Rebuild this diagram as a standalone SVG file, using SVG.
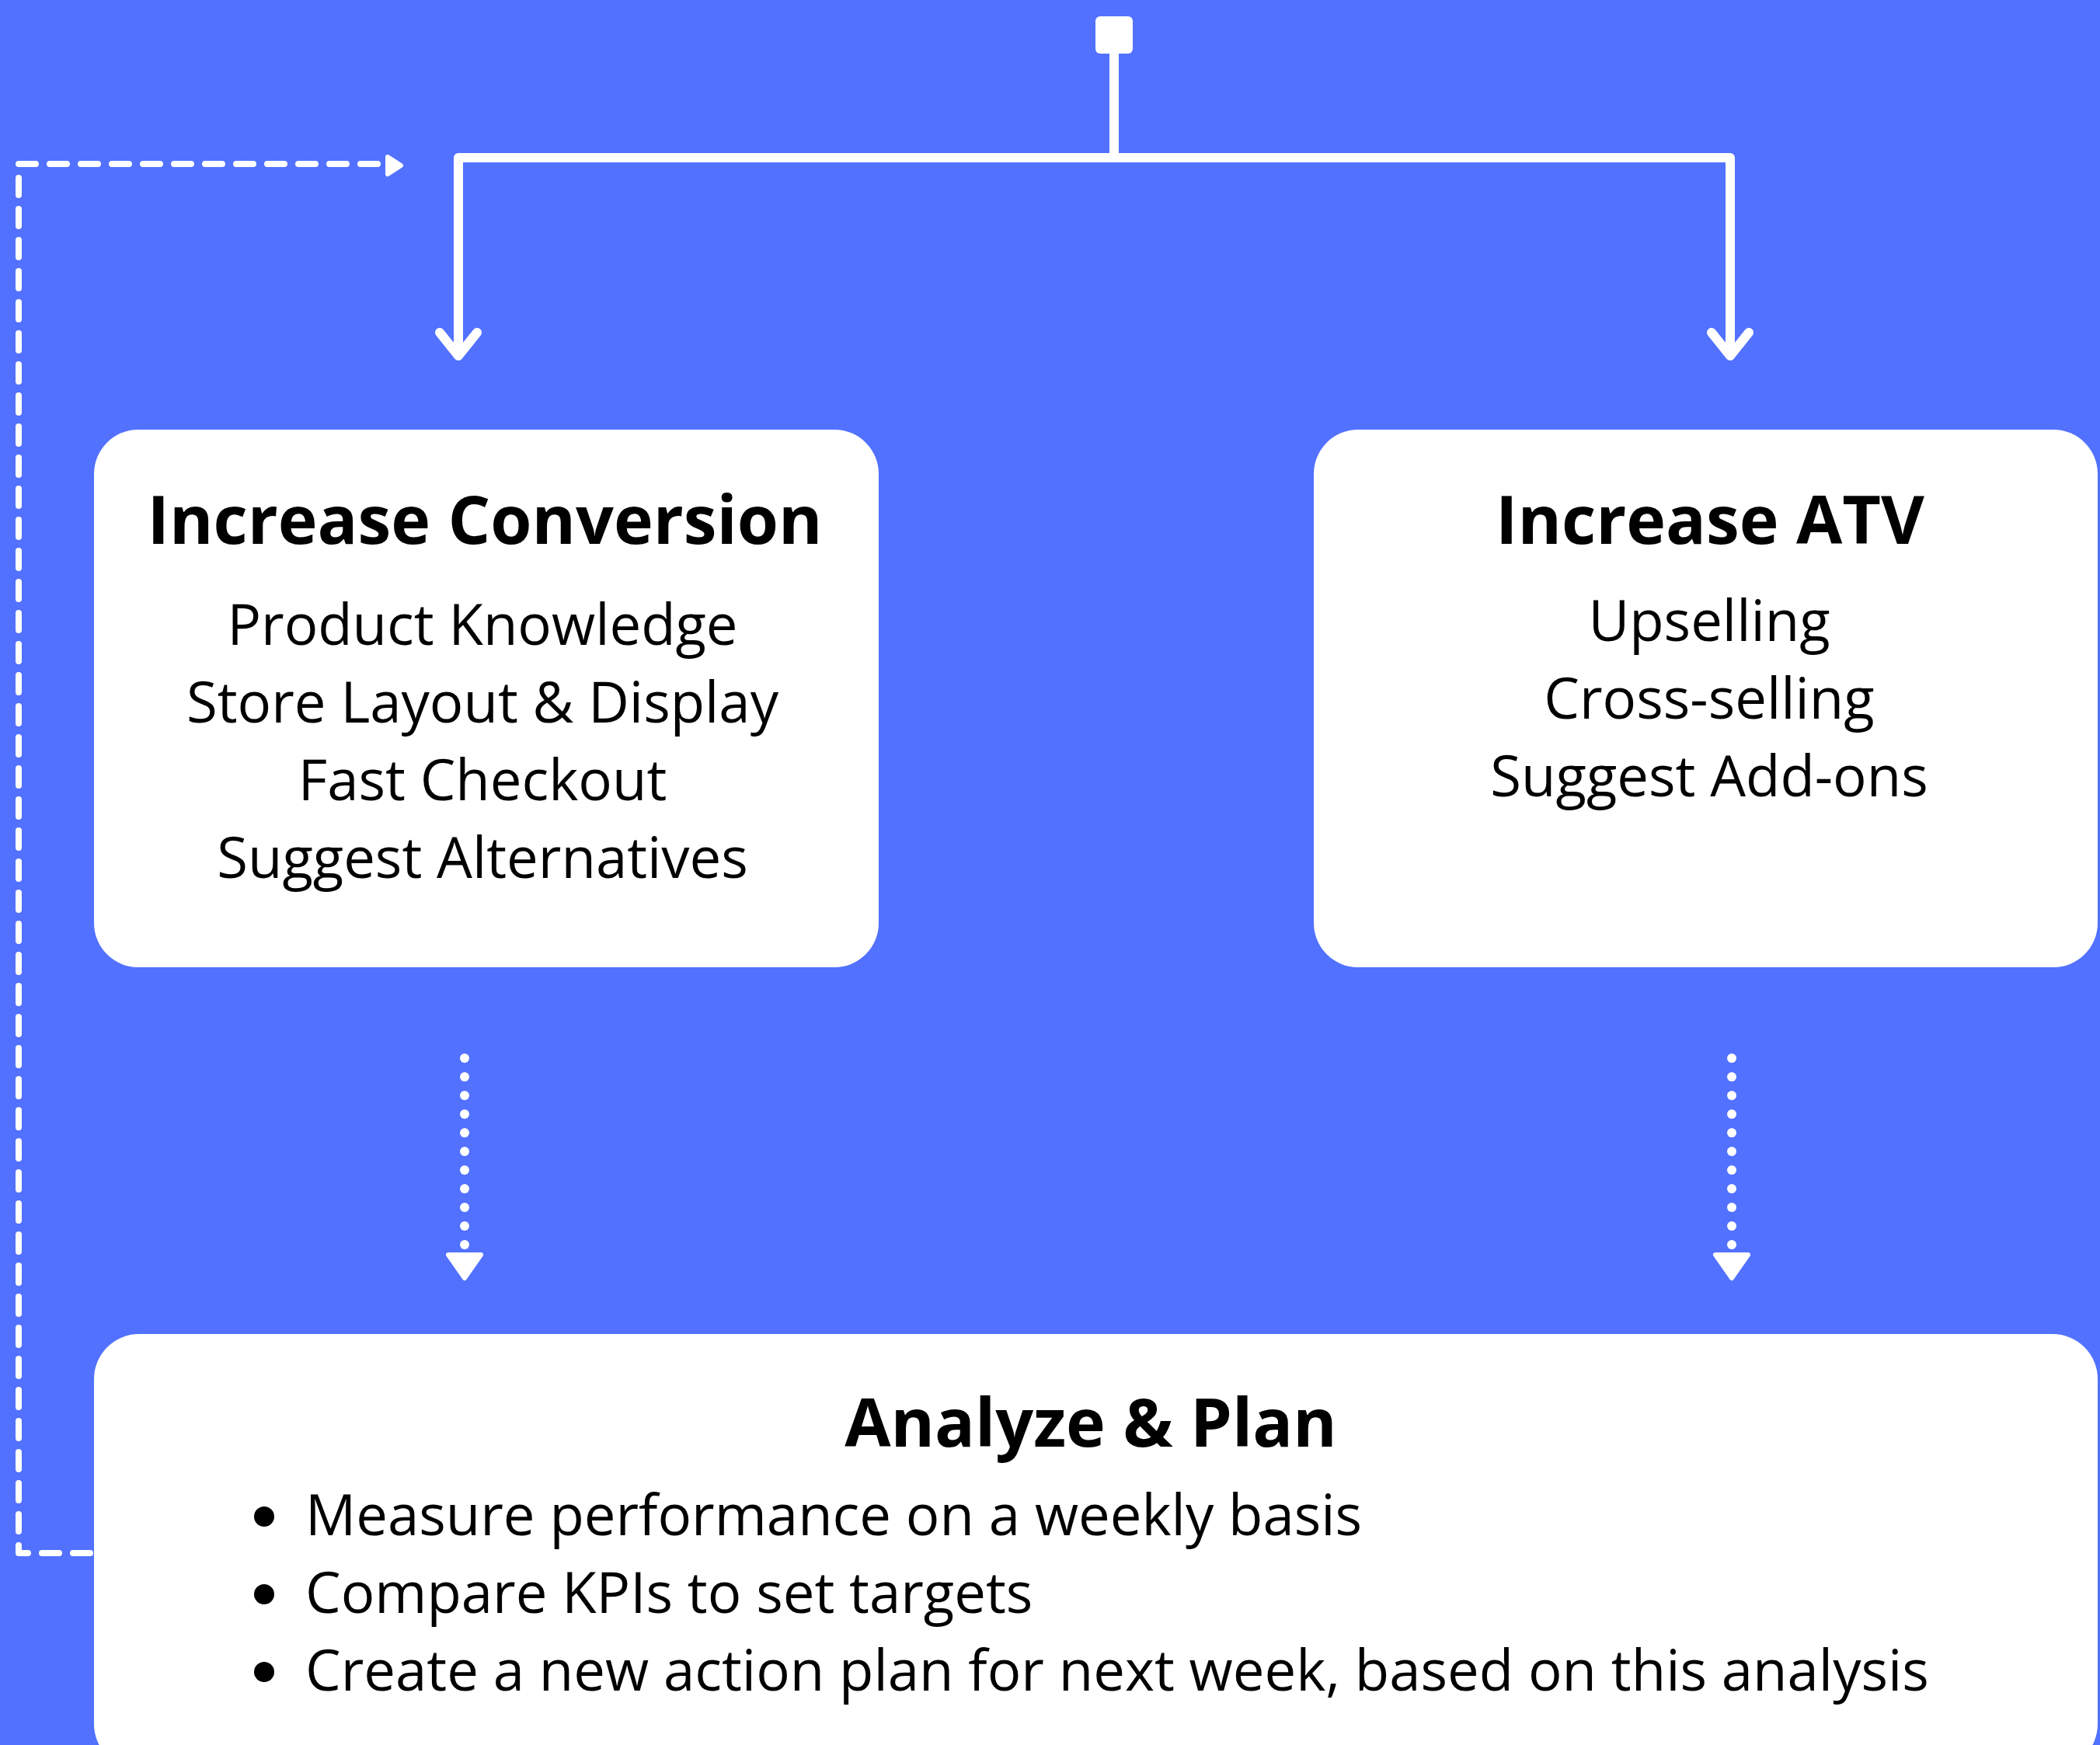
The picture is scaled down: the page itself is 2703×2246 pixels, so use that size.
<svg xmlns="http://www.w3.org/2000/svg" width="2703" height="2246" viewBox="0 0 2703 2246">
  <defs>
    <style>
      .box { fill: #ffffff; }
      .title { font-family: "Open Sans", "Liberation Sans", sans-serif; font-weight: 700; font-size: 86px; fill: #000000; text-anchor: middle; }
      .body { font-family: "Open Sans", "Liberation Sans", sans-serif; font-weight: 400; font-size: 72.5px; fill: #000000; text-anchor: middle; }
      .bullet { font-family: "Open Sans", "Liberation Sans", sans-serif; font-weight: 400; font-size: 72.5px; fill: #000000; }
      .solid { fill: none; stroke: #ffffff; stroke-width: 12; stroke-linecap: round; stroke-linejoin: round; }
      .dashed { fill: none; stroke: #ffffff; stroke-width: 8; stroke-linecap: round; stroke-linejoin: round; stroke-dasharray: 22 18; }
      .dot { fill: #ffffff; }
      .head { fill: #ffffff; stroke: #ffffff; stroke-width: 6; stroke-linejoin: round; }
    </style>
  </defs>
  <rect x="0" y="0" width="2703" height="2246" fill="#5271ff"/>

  <g id="connectors">
    <!-- top start square and stem -->
    <rect x="1410" y="21" width="48" height="48" rx="6" fill="#ffffff"/>
    <path class="solid" d="M1434 60 V203"/>
    <!-- branch line -->
    <path class="solid" d="M590 456 V203 H2227 V456"/>
    <!-- chevron heads -->
    <path class="solid" d="M566 428 L590 458 L614 428"/>
    <path class="solid" d="M2203 428 L2227 458 L2251 428"/>
    <!-- dotted arrow left -->
    <g class="dot">
      <circle cx="598" cy="1362" r="6"/><circle cx="598" cy="1386" r="6"/><circle cx="598" cy="1410" r="6"/>
      <circle cx="598" cy="1434" r="6"/><circle cx="598" cy="1458" r="6"/><circle cx="598" cy="1482" r="6"/>
      <circle cx="598" cy="1506" r="6"/><circle cx="598" cy="1530" r="6"/><circle cx="598" cy="1554" r="6"/>
      <circle cx="598" cy="1578" r="6"/><circle cx="598" cy="1602" r="6"/>
    </g>
    <path class="head" d="M577 1615 H619 L598 1645 Z"/>
    <!-- dotted arrow right -->
    <g class="dot">
      <circle cx="2229" cy="1362" r="6"/><circle cx="2229" cy="1386" r="6"/><circle cx="2229" cy="1410" r="6"/>
      <circle cx="2229" cy="1434" r="6"/><circle cx="2229" cy="1458" r="6"/><circle cx="2229" cy="1482" r="6"/>
      <circle cx="2229" cy="1506" r="6"/><circle cx="2229" cy="1530" r="6"/><circle cx="2229" cy="1554" r="6"/>
      <circle cx="2229" cy="1578" r="6"/><circle cx="2229" cy="1602" r="6"/>
    </g>
    <path class="head" d="M2208 1615 H2250 L2229 1645 Z"/>
    <!-- dashed feedback loop -->
    <path class="dashed" d="M116 1999 H24 V211 H492"/>
    <path class="head" d="M499 202 L516 213 L499 224 Z"/>
  </g>

  <g id="node-conversion">
    <rect class="box" x="121" y="553" width="1010" height="692" rx="57"/>
    <text class="title" x="624" y="700">Increase Conversion</text>
    <text class="body" x="621" y="830">Product Knowledge</text>
    <text class="body" x="621" y="930">Store Layout &amp; Display</text>
    <text class="body" x="621" y="1030">Fast Checkout</text>
    <text class="body" x="621" y="1130">Suggest Alternatives</text>
  </g>

  <g id="node-atv">
    <rect class="box" x="1691" y="553" width="1009" height="692" rx="57"/>
    <text class="title" x="2201" y="700">Increase ATV</text>
    <text class="body" x="2200" y="825">Upselling</text>
    <text class="body" x="2200" y="925">Cross-selling</text>
    <text class="body" x="2200" y="1025">Suggest Add-ons</text>
  </g>

  <g id="node-analyze">
    <rect class="box" x="121" y="1717" width="2579" height="560" rx="58"/>
    <text class="title" x="1404" y="1862">Analyze &amp; Plan</text>
    <circle cx="340" cy="1952" r="13" fill="#000000"/>
    <circle cx="340" cy="2052" r="13" fill="#000000"/>
    <circle cx="340" cy="2152" r="13" fill="#000000"/>
    <text class="bullet" x="393" y="1976">Measure performance on a weekly basis</text>
    <text class="bullet" x="393" y="2076">Compare KPIs to set targets</text>
    <text class="bullet" x="393" y="2176">Create a new action plan for next week, based on this analysis</text>
  </g>
</svg>
